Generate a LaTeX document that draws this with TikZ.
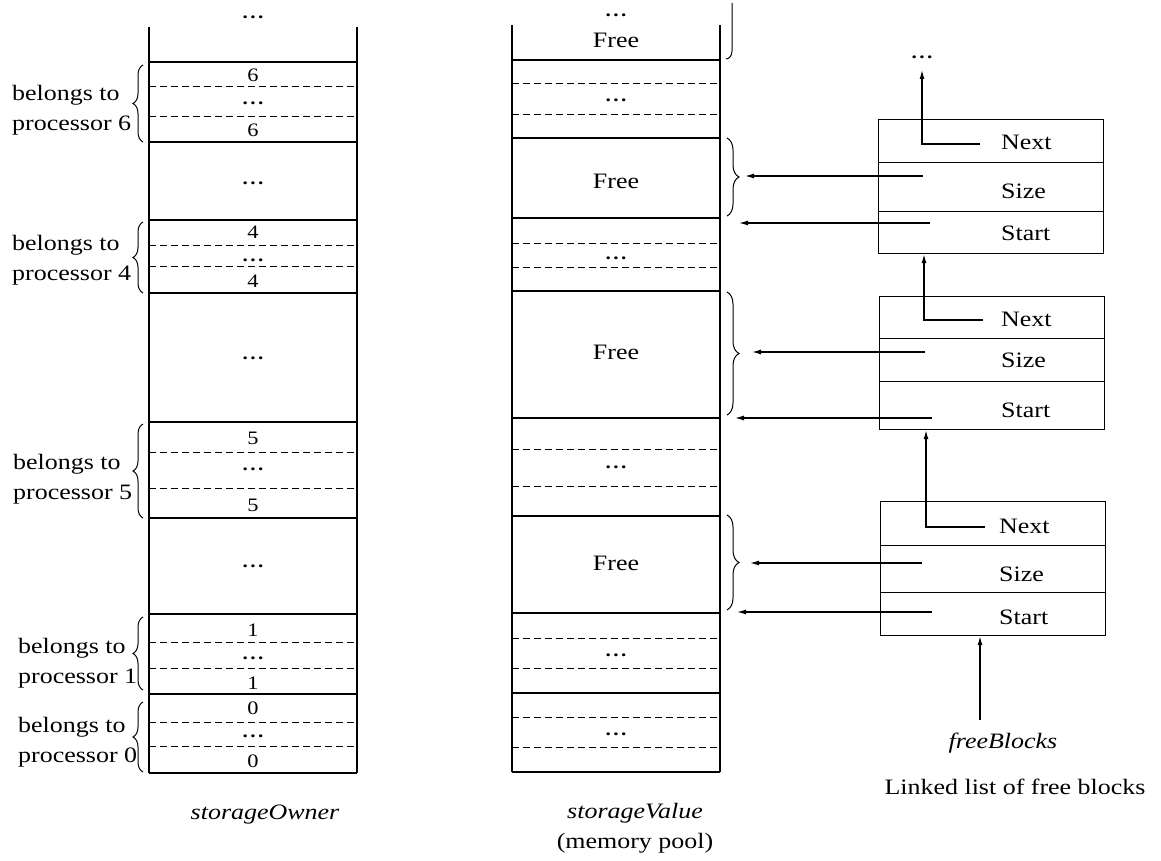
\documentclass[tikz,border=0pt]{standalone}
\usepackage{fontspec}
\setmainfont{Liberation Serif}[FakeStretch=1.18]
\usetikzlibrary{arrows.meta,decorations.pathreplacing}
\newcommand{\dts}{{\bfseries .\kern2.5pt.\kern2.5pt.}}
\begin{document}
\begin{tikzpicture}[x=1pt,y=-1pt,
  frame/.style={line width=1.2pt},
  dsh/.style={line width=1pt, dash pattern=on 7pt off 4pt},
  txt/.style={font=\fontsize{22}{30}\selectfont, inner sep=0},
  num/.style={font=\fontsize{19}{21}\selectfont, inner sep=0, text height=13pt, text depth=0pt},
  dots/.style={font=\fontsize{18}{20}\selectfont, inner sep=0, anchor=base, text height=4pt, text depth=0pt},
  lbrace/.style={decorate, decoration={brace, amplitude=10pt}, line width=1pt},
  rbrace/.style={decorate, decoration={brace, amplitude=12pt}, line width=1pt},
  arr/.style={line width=1.2pt, -{Latex[length=9pt,width=5pt]}},
  field/.style={draw, line width=1.2pt, minimum width=225pt, inner sep=0, anchor=north west}]
\useasboundingbox (0,0) rectangle (1161,861);

% ---------- storageOwner column ----------
\draw[frame] (149,27) -- (149,773) (357,27) -- (357,773);
\foreach \y in {62,142,220,293,422,518,614,694,773} \draw[frame] (149,\y) -- (357,\y);
\foreach \y in {87,117,245,266,452,488,642,668,722,746} \draw[dsh] (149,\y) -- (357,\y);
\node[dots] (o0) at (253,19) {\dts};
\node[num] (o6a) at (253,75) {6};
\node[dots] (o6b) at (253,105) {\dts};
\node[num] (o6c) at (253,130) {6};
\node[dots] (o65) at (253,185) {\dts};
\node[num] (o4a) at (253,232) {4};
\node[dots] (o4b) at (253,261) {\dts};
\node[num] (o4c) at (253,281) {4};
\node[dots] (o45) at (253,359) {\dts};
\node[num] (o5a) at (253,438) {5};
\node[dots] (o5b) at (253,470) {\dts};
\node[num] (o5c) at (253,505) {5};
\node[dots] (o51) at (253,567) {\dts};
\node[num] (o1a) at (253,630) {1};
\node[dots] (o1b) at (253,659) {\dts};
\node[num] (o1c) at (253,683) {1};
\node[num] (o0a) at (253,708) {0};
\node[dots] (o0b) at (253,737) {\dts};
\node[num] (o0c) at (253,761) {0};
\node[txt] (capo) at (265,815) {\itshape storageOwner};

\draw[lbrace] (143,142) -- (143,65);
\draw[lbrace] (143,293) -- (143,222);
\draw[lbrace] (143,518) -- (143,424);
\draw[lbrace] (143,690) -- (143,617);
\draw[lbrace] (143,772) -- (143,702);
\node[txt, anchor=west, align=left] (b6) at (12,110) {belongs to\\processor 6};
\node[txt, anchor=west, align=left] (b4) at (12,260) {belongs to\\processor 4};
\node[txt, anchor=west, align=left] (b5) at (13,479) {belongs to\\processor 5};
\node[txt, anchor=west, align=left] (b1) at (18,663) {belongs to\\processor 1};
\node[txt, anchor=west, align=left] (b0) at (18,742) {belongs to\\processor 0};

% ---------- storageValue column ----------
\draw[frame] (512,25) -- (512,772) (720,25) -- (720,772);
\foreach \y in {60,138,218,291,418,516,613,693,772} \draw[frame] (512,\y) -- (720,\y);
\foreach \y in {84,115,243,267,449,486,638,668,717,747} \draw[dsh] (512,\y) -- (720,\y);
\node[dots] (v0) at (616,17) {\dts};
\node[txt] (vf0) at (616,40) {Free};
\node[dots] (v1) at (616,102) {\dts};
\node[txt] (vf1) at (616,181) {Free};
\node[dots] (v2) at (616,259) {\dts};
\node[txt] (vf2) at (616,352) {Free};
\node[dots] (v3) at (616,468) {\dts};
\node[txt] (vf3) at (616,563) {Free};
\node[dots] (v4) at (616,656) {\dts};
\node[dots] (v5) at (616,735) {\dts};
\node[txt] (capv) at (635,813) {\itshape storageValue};
\node[txt] (capm) at (635,843) {(memory pool)};

% partial brace at the top
\draw[line width=1pt] (732,3) -- (732,51) .. controls (732,56) and (729,59) .. (726,59);
\draw[rbrace] (727,138) -- (727,216);
\draw[rbrace] (727,292) -- (727,415);
\draw[rbrace] (727,515) -- (727,610);
\coordinate (t1) at (745,176);
\coordinate (t2) at (752,352);
\coordinate (t3) at (750,563);
\coordinate (e1) at (739,223);
\coordinate (e2) at (735,418);
\coordinate (e3) at (737,612);

% ---------- free list ----------
\node[field, minimum height=43pt] (next1) at (878,119) {};
\node[field, minimum height=49pt] (size1) at (878,162) {};
\node[field, minimum height=42pt] (start1) at (878,211) {};
\node[field, minimum height=42pt] (next2) at (879,296) {};
\node[field, minimum height=43pt] (size2) at (879,338) {};
\node[field, minimum height=48pt] (start2) at (879,381) {};
\node[field, minimum height=44pt] (next3) at (880,501) {};
\node[field, minimum height=47pt] (size3) at (880,545) {};
\node[field, minimum height=43pt] (start3) at (880,592) {};

\node[txt, anchor=west] (ln1) at (1001,142) {Next};
\node[txt, anchor=west] (ls1) at (1001,191) {Size};
\node[txt, anchor=west] (lt1) at (1001,233) {Start};
\node[txt, anchor=west] (ln2) at (1001,319) {Next};
\node[txt, anchor=west] (ls2) at (1001,360) {Size};
\node[txt, anchor=west] (lt2) at (1001,410) {Start};
\node[txt, anchor=west] (ln3) at (999,526) {Next};
\node[txt, anchor=west] (ls3) at (999,574) {Size};
\node[txt, anchor=west] (lt3) at (999,617) {Start};

\node[dots] (fd) at (922,59) {\dts};
\coordinate (top) at (922,70);
\coordinate (n1a) at (980,144);
\draw[arr] (n1a) -| (top);
\coordinate (n2a) at (983,320);
\coordinate (n2x) at (924,320);
\draw[arr] (n2a) -- (n2x) -- (n2x |- start1.south);
\coordinate (n3a) at (985,527);
\coordinate (n3x) at (926,527);
\draw[arr] (n3a) -- (n3x) -- (n3x |- start2.south);

\coordinate (s1a) at (923,176);
\coordinate (s2a) at (925,352);
\coordinate (s3a) at (922,563);
\coordinate (r1a) at (930,223);
\coordinate (r2a) at (932,418);
\coordinate (r3a) at (932,612);
\draw[arr] (s1a) -- (t1);
\draw[arr] (s2a) -- (t2);
\draw[arr] (s3a) -- (t3);
\draw[arr] (r1a) -- (e1);
\draw[arr] (r2a) -- (e2);
\draw[arr] (r3a) -- (e3);

\coordinate (fbx) at (980,720);
\draw[arr] (fbx) -- (fbx |- start3.south);
\node[txt] (fb) at (1003,743) {\itshape freeBlocks};
\node[txt] (ll) at (1015,787) {Linked list of free blocks};
\end{tikzpicture}
\end{document}
